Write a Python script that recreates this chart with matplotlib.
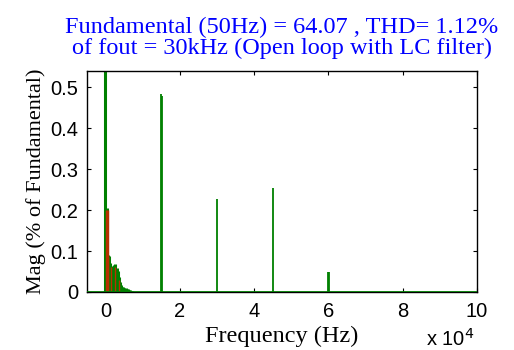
import matplotlib
matplotlib.use("Agg")
import matplotlib.pyplot as plt

# Low-frequency band (Hz) and magnitudes (% of fundamental)
low_freq = [0, 300, 600, 900, 1200, 1500, 1800, 2100, 2400, 2700, 3000, 3300,
            3600, 3900, 4200, 4500, 4800, 5100, 5400, 5700, 6000, 6300, 6600,
            6900, 7200]
low_mag = [0.54, 0.205, 0.09, 0.088, 0.07, 0.062, 0.06, 0.063, 0.066, 0.068,
           0.058, 0.05, 0.036, 0.025, 0.017, 0.013, 0.011, 0.01, 0.009, 0.008,
           0.007, 0.005, 0.004, 0.003, 0.002]

# Red component bars (Hz, mag)
red_freq = [200, 400, 600, 700, 1600, 2700, 3600]
red_mag = [0.2, 0.2, 0.2, 0.085, 0.06, 0.06, 0.03]

# Switching harmonics (Hz, mag)
sw_freq = [14850, 15150, 30000, 45000, 59850, 60150]
sw_mag = [0.484, 0.478, 0.227, 0.254, 0.049, 0.048]

xticks = [0, 20000, 40000, 60000, 80000, 100000]
xticklabels = ['0', '2', '4', '6', '8', '10']
yticks = [0, 0.1, 0.2, 0.3, 0.4, 0.5]
yticklabels = ['0', '0.1', '0.2', '0.3', '0.4', '0.5']

green = '#008000'
red = '#b83000'

fig = plt.figure(figsize=(5.14, 3.5), dpi=100)
ax = fig.add_axes([0.169, 0.166, 0.759, 0.631])

ax.vlines(low_freq, 0, low_mag, color=green, linewidth=2.2)
ax.vlines(red_freq, 0, red_mag, color=red, linewidth=1.0)
ax.vlines(sw_freq, 0, sw_mag, color=green, linewidth=1.3)
ax.axhline(0, color=green, linewidth=2.0, zorder=3)

ax.set_xlim(-5000, 100000)
ax.set_ylim(0, 0.54)
ax.set_xticks(xticks)
ax.set_xticklabels(xticklabels, family='Liberation Sans', fontsize=14.5)
ax.set_yticks(yticks)
ax.set_yticklabels(yticklabels, family='Liberation Sans', fontsize=14.5)
ax.tick_params(direction='in', top=True, right=True, length=3, width=0.8)
ax.tick_params(axis='x', pad=7)
ax.tick_params(axis='y', pad=6)
for s in ax.spines.values():
    s.set_linewidth(1.0)

ax.set_xlabel('Frequency (Hz)', family='Liberation Serif', fontsize=17.5, labelpad=4)
ax.set_ylabel('Mag (% of Fundamental)', family='Liberation Serif', fontsize=16, labelpad=3)
ax.set_title('Fundamental (50Hz) = 64.07 , THD= 1.12%\nof fout = 30kHz (Open loop with LC filter)',
             family='Liberation Serif', fontsize=17.5, color='#0000ff', linespacing=1.02, pad=12)
fig.text(0.828, 0.0, r'x 10$^{4}$', family='Liberation Sans', fontsize=14.5, va='bottom')

fig.savefig('out.png', dpi=100)
